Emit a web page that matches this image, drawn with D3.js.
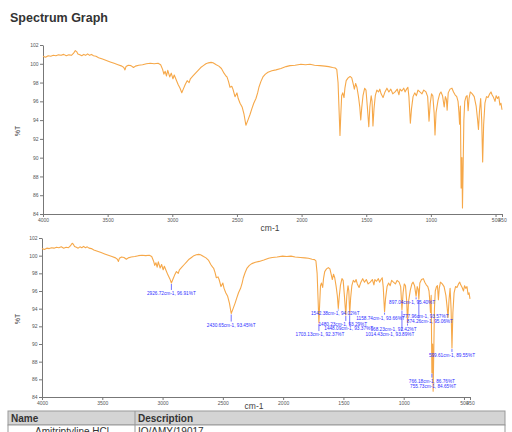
<!DOCTYPE html>
<html><head><meta charset="utf-8">
<script src="https://cdn.jsdelivr.net/npm/d3@7"></script>
<style>body{margin:0;background:#fff}svg{display:block}text{font-family:"Liberation Sans",Arial,sans-serif}</style>
</head><body><svg id="c" width="512" height="432"></svg>
<script>
const wavenumbers=[4000,3980,3960,3940,3920,3900,3880,3860,3840,3820,3800,3780,3765,3750,3740,3730,3715,3700,3685,3670,3655,3640,3625,3610,3590,3570,3540,3510,3480,3450,3420,3390,3375,3366,3358,3340,3320,3300,3285,3260,3230,3200,3170,3140,3110,3090,3075,3065,3055,3045,3035,3020,3008,2995,2985,2970,2955,2940,2926.72,2915,2900,2885,2870,2860,2840,2820,2800,2780,2760,2740,2720,2700,2685,2660,2640,2620,2600,2585,2577,2565,2554,2540,2531,2515,2500,2490,2476,2460,2445,2430.65,2415,2399,2385,2370,2353,2340,2330,2315,2299,2280,2260,2230,2198,2160,2120,2090,2050,2005,1970,1935,1900,1858,1820,1790,1760,1740,1728,1718,1710,1703.13,1697,1690,1682,1672,1665,1655,1640,1625,1612,1600,1592,1582,1572,1560,1550,1542.38,1535,1525,1512,1502,1492,1480.23,1472,1462,1455,1448.09,1440,1430,1418,1405,1395,1385,1370,1355,1340,1325,1310,1295,1277,1260,1247,1239,1225,1210,1200,1188,1178,1170,1158.74,1150,1138,1125,1112,1100,1085,1069,1055,1038,1025,1014.43,1005,995,985,975,968.23,960,945,932,922,910,897.04,888,880,874.26,866,852,837,825,813,800,790,783,777.96,772,766.18,760,755.73,750,745,738,728,720,712,705,695,680,665,650,640,632,624,615,607,599.61,592,582,570,558,545,535,527,515,504,495,485,475,466,458,450];
const transmittance=[100.8,100.7,100.85,100.8,100.9,100.85,100.95,100.9,101.0,100.85,100.95,100.9,101.1,101.4,101.3,101.05,100.95,100.85,101.0,100.9,101.05,100.9,101.0,100.85,100.8,100.65,100.5,100.35,100.2,100.05,99.9,99.75,99.6,99.35,99.7,99.85,99.8,99.6,99.75,99.85,99.9,100.0,100.05,100.0,100.05,99.9,99.4,98.9,99.2,98.7,99.3,98.6,99.0,98.4,98.8,98.3,97.8,97.4,96.91,97.3,97.8,98.2,98.0,98.4,98.7,99.0,99.3,99.6,99.8,100.0,100.1,100.15,100.1,99.9,99.75,99.5,99.0,98.7,98.6,98.1,97.5,97.6,97.3,96.5,96.9,96.3,95.8,95.4,94.6,93.45,94.0,94.6,95.2,95.8,96.3,96.9,97.5,98.1,98.6,98.9,99.1,99.25,99.35,99.5,99.7,99.8,99.85,99.95,99.9,99.95,99.85,99.8,99.75,99.7,99.6,99.55,99.4,98.0,95.0,92.37,94.5,96.6,96.9,96.4,97.4,98.2,98.5,98.65,98.5,97.8,97.3,97.9,97.5,96.5,95.4,94.02,95.3,96.6,97.4,97.2,95.5,93.29,95.4,96.6,96.0,93.37,95.2,96.6,97.2,97.0,97.3,96.8,96.4,97.0,97.4,97.0,97.3,96.8,97.0,97.3,96.7,97.3,97.1,97.4,97.0,97.3,97.5,96.5,93.66,95.2,96.5,96.9,96.6,97.2,97.0,96.8,97.2,97.0,96.5,93.89,95.8,96.8,96.6,94.8,92.42,94.8,96.1,96.8,97.0,96.6,95.40,96.5,96.2,95.06,96.9,97.3,97.4,97.0,96.7,96.5,96.0,94.8,93.57,95.5,86.76,90.0,84.65,89.5,94.0,96.0,96.5,96.6,95.0,96.3,97.0,96.8,96.5,95.5,94.2,93.0,95.0,96.3,94.0,89.55,93.5,95.8,96.5,96.4,96.8,97.0,96.7,96.4,96.0,96.6,96.3,96.5,95.6,95.8,95.1];
const xTicks=[4000,3500,3000,2500,2000,1500,1000,500,450];
const yTicks=[84,86,88,90,92,94,96,98,100,102];
const peakWavenumbers=[2926.72,2430.65,1703.13,1542.38,1480.23,1448.09,1158.74,1014.43,968.23,897.04,874.26,777.96,766.18,755.73,599.61];
const peakTransmittance=[96.91,93.45,92.37,94.02,93.29,93.37,93.66,93.89,92.42,95.40,95.06,93.57,86.76,84.65,89.55];
const tableHeader=["Name","Description"];
const tableRow=["Amitriptyline HCl","IQ/AMY/19017"];
// label layout (px offsets from peak), not data
const labelLayout=[[0,12],[0,13],[1,13],[-3,7],[-3,11],[-1,16],[-4,8],[-12,26],[-14,8],[-4,8],[11,24],[-5,6],[0,10],[0,-3],[0,9]];

const svg=d3.select("#c");
svg.append("text").attr("x",10).attr("y",22).attr("font-size",12.5).attr("font-weight","bold").attr("fill","#333").text("Spectrum Graph");

function panel(cfg){
  const x=d3.scaleLinear().domain([4000,450]).range([cfg.x0,cfg.x1]);
  const y=d3.scaleLinear().domain([84,102]).range([cfg.yb,cfg.yt]);
  const g=svg.append("g");
  const ya=g.append("g").attr("transform",`translate(${cfg.x0},0)`).call(d3.axisLeft(y).tickValues(yTicks).tickSize(3).tickSizeOuter(0).tickPadding(1.5));
  const xa=g.append("g").attr("transform",`translate(0,${cfg.yb})`).call(d3.axisBottom(x).tickValues(xTicks).tickSize(3).tickSizeOuter(0).tickPadding(1).tickFormat(d3.format("d")));
  [ya,xa].forEach(a=>{a.selectAll("path,line").attr("stroke","#777");a.selectAll("text").attr("font-size",5).attr("fill","#555").attr("font-family","Liberation Sans, Arial");});
  const line=d3.line().x((d,i)=>x(wavenumbers[i])).y((d,i)=>y(transmittance[i]));
  g.append("path").datum(transmittance).attr("d",line).attr("fill","none").attr("stroke","#f6a849").attr("stroke-width",1.1).attr("stroke-linejoin","round");
  g.append("text").attr("transform",`translate(${cfg.ylx},${cfg.yly}) rotate(-90)`).attr("text-anchor","middle").attr("font-size",7).attr("fill","#444").text("%T");
  g.append("text").attr("x",cfg.xlx).attr("y",cfg.xly).attr("text-anchor","middle").attr("font-size",8.5).attr("fill","#444").text("cm-1");
  if(cfg.labels){
    peakWavenumbers.forEach((w,i)=>{
      const px=x(w),py=y(peakTransmittance[i]);const [dx,dy]=labelLayout[i];
      if(dy>3) g.append("line").attr("x1",px).attr("x2",px).attr("y1",py+1).attr("y2",py+dy-5).attr("stroke","#3a3aff").attr("stroke-width",0.7);
      g.append("text").attr("x",px+dx).attr("y",py+dy).attr("text-anchor","middle").attr("font-size",4.7).attr("fill","#2f2fff")
        .text(`${w.toFixed(2)}cm-1, ${peakTransmittance[i].toFixed(2)}%T`);
    });
  }
}
panel({x0:43,x1:502,yb:214,yt:45,ylx:20,yly:131,xlx:270,xly:231});

// table
const tg=svg.append("g");
tg.append("rect").attr("x",8).attr("y",411).attr("width",497).attr("height",14).attr("fill","#d4d4d4").attr("stroke","#999").attr("stroke-width",1);
tg.append("rect").attr("x",8).attr("y",425).attr("width",497).attr("height",15).attr("fill","#fff").attr("stroke","#999").attr("stroke-width",1);
tg.append("line").attr("x1",135).attr("x2",135).attr("y1",411).attr("y2",440).attr("stroke","#999");
tg.append("text").attr("x",11).attr("y",421.5).attr("font-size",10).attr("font-weight","bold").attr("fill","#333").text(tableHeader[0]);
tg.append("text").attr("x",138).attr("y",421.5).attr("font-size",10).attr("font-weight","bold").attr("fill","#333").text(tableHeader[1]);
tg.append("text").attr("x",72).attr("y",435).attr("text-anchor","middle").attr("font-size",10).attr("fill","#333").text(tableRow[0]);
tg.append("text").attr("x",138).attr("y",435).attr("font-size",10).attr("fill","#333").text(tableRow[1]);

panel({x0:42,x1:470,yb:397,yt:238,ylx:20,yly:319,xlx:254,xly:408.5,labels:true});
</script></body></html>
